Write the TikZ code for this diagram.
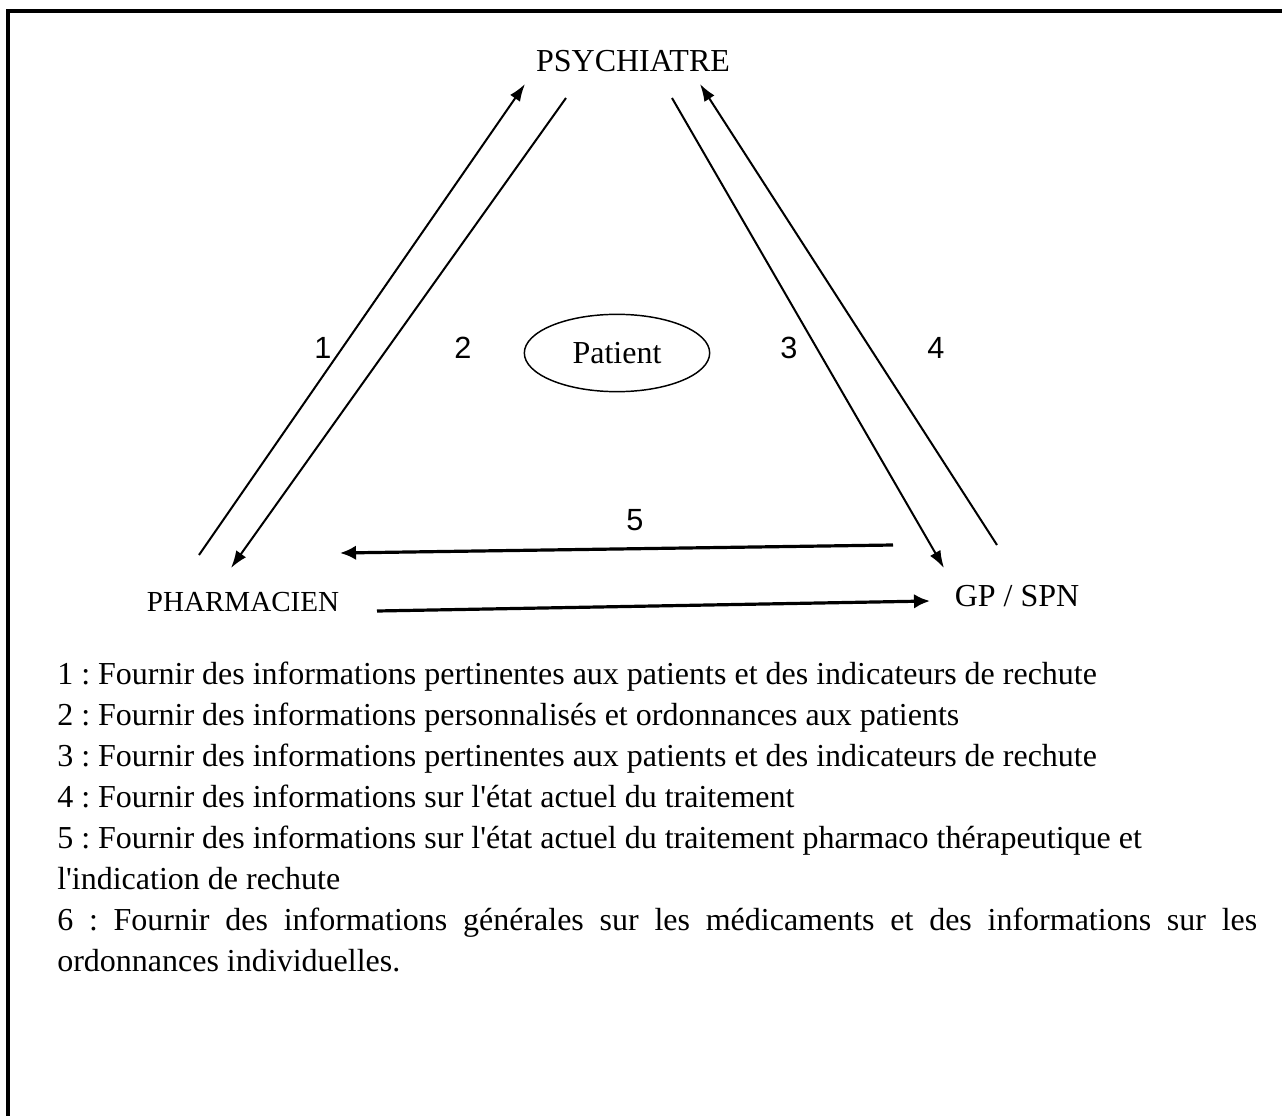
\documentclass[tikz,border=0pt]{standalone}
\usepackage{fontspec}
\setmainfont{Liberation Serif}[Ligatures=TeXOff]
\newfontfamily\arialf{Liberation Sans}
\usetikzlibrary{arrows.meta,shapes.geometric}
\tikzset{
  lbl/.style={font=\fontsize{24pt}{28pt}\selectfont, inner sep=0pt},
  num/.style={font=\arialf\fontsize{23pt}{28pt}\selectfont, inner sep=0pt},
  leg/.style={font=\frenchspacing\fontsize{24pt}{28pt}\selectfont, inner sep=0pt, anchor=base west},
  diag/.style={line width=1.5pt, -{Latex[length=13pt,width=9pt]}},
  horiz/.style={line width=2.4pt, -{Latex[length=12pt,width=11pt]}},
}
\begin{document}
\frenchspacing
\begin{tikzpicture}[x=0.75pt,y=-0.75pt]
\useasboundingbox (0,0) rectangle (1282,1116);
% frame
\draw[line width=3pt] (8,1130) -- (8,11.5) -- (1295,11.5);
% main nodes
\node[lbl] (psy) at (633,61) {PSYCHIATRE};
\node[lbl, font=\fontsize{21.8pt}{26pt}\selectfont] (pha) at (243,602) {PHARMACIEN};
\node[lbl] (gp) at (1017,596) {GP / SPN};
\node[lbl, draw, ellipse, line width=1.1pt, minimum width=139pt, minimum height=58pt] (pat) at (617,353) {Patient};
% arrow endpoints
\coordinate (a1s) at (199,555); \coordinate (a1e) at (525,84);
\coordinate (a2s) at (566,98);  \coordinate (a2e) at (231,568);
\coordinate (a3s) at (672,98);  \coordinate (a3e) at (944,568);
\coordinate (a4s) at (997,545); \coordinate (a4e) at (700,84);
\coordinate (a5s) at (893,545); \coordinate (a5e) at (340,553);
\coordinate (a6s) at (377,611); \coordinate (a6e) at (930,601);
\draw[diag] (a1s) -- (a1e);
\draw[diag] (a2s) -- (a2e);
\draw[diag] (a3s) -- (a3e);
\draw[diag] (a4s) -- (a4e);
\draw[horiz] (a5s) -- (a5e);
\draw[horiz] (a6s) -- (a6e);
% numbers
\node[num] (n1) at (323,348) {1};
\node[num] (n2) at (463,348) {2};
\node[num] (n3) at (789,348) {3};
\node[num] (n4) at (936,348) {4};
\node[num] (n5) at (635,520) {5};
% legend
\node[leg] (l1) at (57,684) {1 : Fournir des informations pertinentes aux patients et des indicateurs de rechute};
\node[leg] (l2) at (57,725) {2 : Fournir des informations personnalisés et ordonnances aux patients};
\node[leg] (l3) at (57,766) {3 : Fournir des informations pertinentes aux patients et des indicateurs de rechute};
\node[leg] (l4) at (57,807) {4 : Fournir des informations sur l'état actuel du traitement};
\node[leg] (l5) at (57,848) {5 : Fournir des informations sur l'état actuel du traitement pharmaco thérapeutique et};
\node[leg] (l5b) at (57,889) {l'indication de rechute};
\node[leg] (l6) at (57,930) {\makebox[900pt][s]{6 : Fournir des informations générales sur les médicaments et des informations sur les}};
\node[leg] (l6b) at (57,971) {ordonnances individuelles.};
\end{tikzpicture}
\end{document}
